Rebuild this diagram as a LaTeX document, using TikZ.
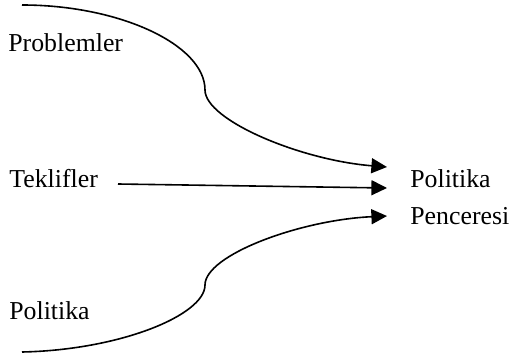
\documentclass[tikz,border=0pt]{standalone}
\usepackage{fontspec}
\setmainfont{Liberation Serif}
\usetikzlibrary{arrows.meta}
\begin{document}
\begin{tikzpicture}[x=0.5pt,y=-0.5pt,
  lbl/.style={anchor=base west,inner sep=0pt,font=\fontsize{12.9}{15}\selectfont},
  conn/.style={line width=0.8pt,-{Triangle[length=7.8pt,width=7.5pt]}}]
\useasboundingbox (0,0) rectangle (509,358);
\node[lbl] (prob) at (8,52) {Problemler};
\node[lbl] (tek) at (9,187) {Teklifler};
\node[lbl] (pol) at (9,319) {Politika};
\node[lbl] (rpol) at (410,187) {Politika};
\node[lbl] (pen) at (410,225) {Penceresi};
\coordinate (s1) at (22,5);
\coordinate (m1) at (205,90);
\coordinate (e1) at (387,167);
\coordinate (s2) at (118,184);
\coordinate (e2) at (387,188);
\coordinate (s3) at (22,352);
\coordinate (m3) at (205,285);
\coordinate (e3) at (387,216);
\draw[conn] (s1) .. controls (120,5) and (205,45) .. (m1)
  .. controls (205,120) and (300,160) .. (e1);
\draw[conn] (s2) -- (e2);
\draw[conn] (s3) .. controls (120,350) and (205,315) .. (m3)
  .. controls (205,255) and (300,220) .. (e3);
\end{tikzpicture}
\end{document}
